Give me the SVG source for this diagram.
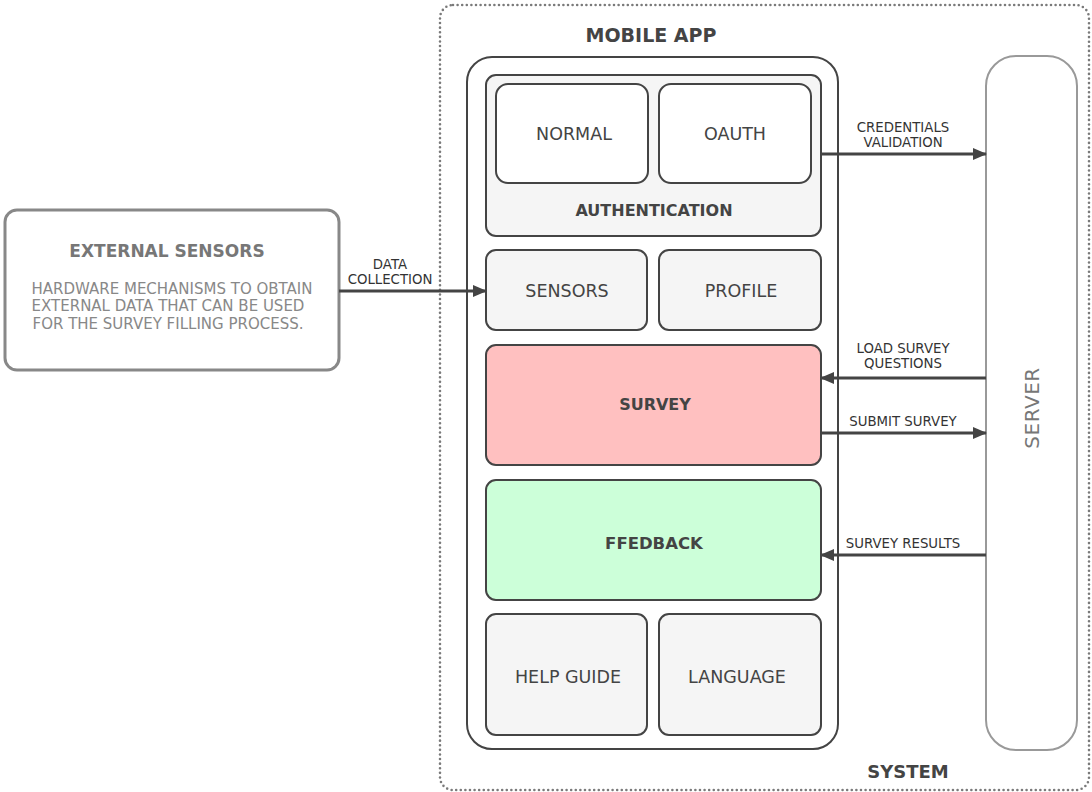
<svg xmlns="http://www.w3.org/2000/svg" width="1092" height="792" viewBox="0 0 1092 792">
  <defs>
    <marker id="arrow" markerWidth="14" markerHeight="12" refX="13" refY="6" orient="auto" markerUnits="userSpaceOnUse">
      <path d="M0,0 L14,6 L0,12 Z" fill="#444"/>
    </marker>
    <style>
      text { font-family: "DejaVu Sans", "Noto Sans", sans-serif; }
      .box { stroke: #444; stroke-width: 2; }
      .lbl { font-size: 17.5px; fill: #444; text-anchor: middle; }
      .bold { font-size: 16px; font-weight: 700; fill: #444; text-anchor: middle; }
      .edge { stroke: #444; stroke-width: 3; fill: none; marker-end: url(#arrow); }
      .elbl { font-size: 13.3px; fill: #333; text-anchor: middle; }
      .desc { font-size: 15px; fill: #888; text-anchor: middle; }
    </style>
  </defs>

  <!-- system boundary -->
  <g id="system">
    <rect x="440" y="5" width="649" height="785" rx="13" fill="none" stroke="#7a7a7a" stroke-width="2.6" stroke-dasharray="0 4.6" stroke-linecap="round"/>
    <text class="bold" x="908" y="778" style="font-size:18px">SYSTEM</text>
  </g>

  <!-- mobile app container -->
  <g id="mobile-app">
    <text class="bold" x="651" y="42" style="font-size:19px">MOBILE APP</text>
    <rect class="box" x="467" y="57" width="371" height="692" rx="25" fill="#fff"/>
  </g>

  <g id="authentication">
    <rect class="box" x="486" y="75" width="335" height="161" rx="10" fill="#f5f5f5"/>
    <text class="bold" x="654" y="216">AUTHENTICATION</text>
  </g>
  <g id="normal">
    <rect class="box" x="496" y="84" width="152" height="99" rx="12" fill="#fff"/>
    <text class="lbl" x="574" y="140">NORMAL</text>
  </g>
  <g id="oauth">
    <rect class="box" x="659" y="84" width="152" height="99" rx="12" fill="#fff"/>
    <text class="lbl" x="735" y="140">OAUTH</text>
  </g>

  <g id="sensors">
    <rect class="box" x="486" y="250" width="161" height="80" rx="10" fill="#f5f5f5"/>
    <text class="lbl" x="567" y="297">SENSORS</text>
  </g>
  <g id="profile">
    <rect class="box" x="659" y="250" width="162" height="80" rx="10" fill="#f5f5f5"/>
    <text class="lbl" x="741" y="297">PROFILE</text>
  </g>

  <g id="survey">
    <rect class="box" x="486" y="345" width="335" height="120" rx="10" fill="#ffc0c0"/>
    <text class="bold" x="655" y="410">SURVEY</text>
  </g>

  <g id="feedback">
    <rect class="box" x="486" y="480" width="335" height="120" rx="10" fill="#ccffd9"/>
    <text class="bold" x="654" y="549" style="font-size:16.5px">FFEDBACK</text>
  </g>

  <g id="help-guide">
    <rect class="box" x="486" y="614" width="161" height="121" rx="10" fill="#f5f5f5"/>
    <text class="lbl" x="568" y="683">HELP GUIDE</text>
  </g>
  <g id="language">
    <rect class="box" x="659" y="614" width="162" height="121" rx="10" fill="#f5f5f5"/>
    <text class="lbl" x="737" y="683">LANGUAGE</text>
  </g>

  <!-- server -->
  <g id="server">
    <rect x="986" y="56" width="91" height="694" rx="30" fill="#fff" stroke="#999" stroke-width="2"/>
    <text x="1032" y="408" transform="rotate(-90 1032 408)" dominant-baseline="central" style="font-size:20px;fill:#777;text-anchor:middle;letter-spacing:0.5px">SERVER</text>
  </g>

  <!-- external sensors -->
  <g id="external-sensors">
    <rect x="5" y="210" width="334" height="160" rx="12" fill="#fff" stroke="#888" stroke-width="3"/>
    <text x="167" y="257" style="font-size:17px;font-weight:700;fill:#777;text-anchor:middle">EXTERNAL SENSORS</text>
    <text class="desc" x="172" y="294">HARDWARE MECHANISMS TO OBTAIN</text>
    <text class="desc" x="168" y="311">EXTERNAL DATA THAT CAN BE USED</text>
    <text class="desc" x="168" y="329">FOR THE SURVEY FILLING PROCESS.</text>
  </g>

  <!-- connectors -->
  <g id="connectors">
    <line class="edge" x1="339" y1="291" x2="486" y2="291"/>
    <text class="elbl" x="390" y="269">DATA</text>
    <text class="elbl" x="390" y="284">COLLECTION</text>

    <line class="edge" x1="821" y1="154" x2="986" y2="154"/>
    <text class="elbl" x="903" y="132">CREDENTIALS</text>
    <text class="elbl" x="903" y="147">VALIDATION</text>

    <line class="edge" x1="986" y1="378" x2="821" y2="378"/>
    <text class="elbl" x="903" y="353">LOAD SURVEY</text>
    <text class="elbl" x="903" y="368">QUESTIONS</text>

    <line class="edge" x1="821" y1="433" x2="986" y2="433"/>
    <text class="elbl" x="903" y="426">SUBMIT SURVEY</text>

    <line class="edge" x1="986" y1="555" x2="821" y2="555"/>
    <text class="elbl" x="903" y="548">SURVEY RESULTS</text>
  </g>
</svg>
